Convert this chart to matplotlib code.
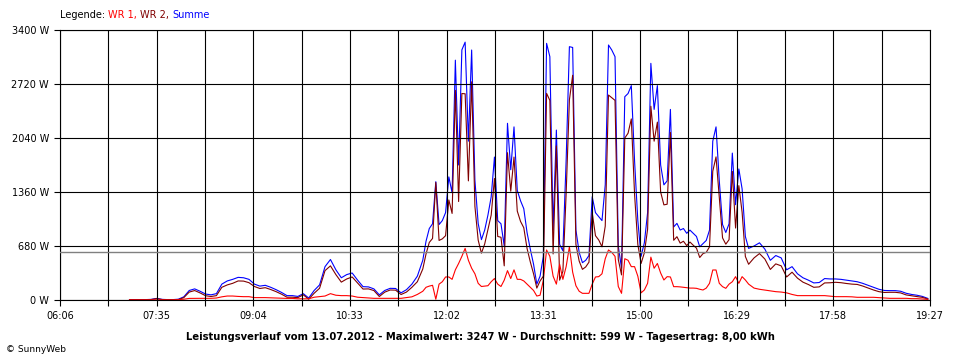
import matplotlib
matplotlib.use('Agg')
import matplotlib.pyplot as plt
import numpy as np
from matplotlib.offsetbox import TextArea, HPacker, AnnotationBbox

plt.rcParams['font.family'] = ['DejaVu Sans']

# sample times, minutes after midnight (5 min morning/evening, 3 min around noon)
times_am = list(range(430, 700, 5))
times_mid = list(range(700, 1001, 3))
times_pm = list(range(1005, 1166, 5))

# Summe (W)
summe_am = [5, 5, 5, 5, 8, 20, 8, 5, 5, 10,
            40, 120, 140, 110, 75, 65, 80, 200, 240, 260,
            285, 280, 260, 200, 175, 185, 160, 130, 95, 55,
            55, 45, 80, 25, 120, 190, 420, 510, 380, 280,
            320, 340, 250, 168, 165, 140, 65, 120, 147, 145,
            90, 130, 200, 300]
summe_mid = [500, 740, 900, 960, 1490, 950, 1000, 1100, 1550, 1350,
             3020, 1700, 3150, 3247, 2000, 3148, 1510, 965, 760, 880,
             1070, 1300, 1800, 1000, 960, 680, 2225, 1640, 2180, 1380,
             1250, 1150, 850, 640, 450, 200, 300, 550, 3232, 3064,
             880, 2140, 700, 620, 1760, 3190, 3180, 880, 600, 470,
             500, 560, 1300, 1100, 1050, 1000, 1450, 3211, 3148, 3064,
             680, 400, 2560, 2600, 2700, 1750, 1000, 550, 720, 1100,
             2980, 2400, 2700, 1700, 1450, 1500, 2400, 920, 965, 881,
             900, 840, 880, 840, 800, 670, 710, 750, 880, 2000,
             2180, 1500, 950, 850, 960, 1850, 1200, 1650, 1400, 800,
             650]
summe_pm = [680, 720, 640, 500, 560, 530, 380, 420, 330, 280,
            250, 215, 220, 270, 265, 265, 260, 250, 240, 230,
            210, 185, 160, 135, 120, 118, 118, 110, 85, 70,
            60, 45, 20]

# WR 1 (W)
wr1_am = [2, 2, 2, 2, 2, 2, 2, 2, 2, 5,
          10, 20, 21, 21, 21, 21, 25, 40, 50, 50,
          45, 42, 42, 30, 30, 30, 28, 25, 22, 20,
          20, 15, 15, 15, 35, 42, 50, 80, 60, 55,
          55, 50, 35, 30, 25, 21, 21, 21, 21, 21,
          21, 30, 40, 70]
wr1_mid = [110, 160, 175, 185, 10, 200, 230, 290, 290, 260,
           380, 460, 550, 650, 500, 400, 330, 210, 170, 175,
           180, 230, 270, 200, 170, 250, 370, 270, 380, 260,
           260, 240, 200, 160, 120, 50, 60, 250, 630, 550,
           300, 200, 450, 260, 420, 670, 350, 180, 110, 84,
           84, 84, 200, 290, 294, 330, 520, 630, 600, 550,
           170, 84, 520, 500, 420, 420, 300, 90, 126, 210,
           540, 400, 460, 340, 252, 294, 290, 168, 168, 165,
           160, 155, 150, 150, 147, 135, 126, 150, 210, 378,
           378, 210, 168, 147, 200, 230, 294, 210, 294, 252,
           200]
wr1_pm = [150, 135, 125, 115, 105, 100, 90, 70, 55, 55,
          55, 55, 55, 55, 48, 42, 42, 42, 40, 34,
          34, 34, 34, 30, 25, 21, 21, 21, 21, 17,
          17, 12, 8]

xtick_labels = ['06:06', '07:35', '09:04', '10:33', '12:02',
                '13:31', '15:00', '16:29', '17:58', '19:27']
ytick_values = [0, 680, 1360, 2040, 2720, 3400]
avg_w = 599
title = ('Leistungsverlauf vom 13.07.2012 - Maximalwert: 3247 W - '
         'Durchschnitt: 599 W - Tagesertrag: 8,00 kWh')

t = np.array(times_am + times_mid + times_pm)
summe = np.array(summe_am + summe_mid + summe_pm)
wr1 = np.array(wr1_am + wr1_mid + wr1_pm)
wr2 = summe - wr1  # WR 2 is the rest of the total

fig = plt.figure(figsize=(9.6, 3.6), dpi=100)
ax = fig.add_axes([60/960, 60/360, 870/960, 270/360])

ax.plot(t, summe, color='#0000FF', lw=0.8)
ax.plot(t, wr2, color='#800000', lw=0.8)
ax.plot(t, wr1, color='#FF0000', lw=0.8)
ax.axhline(avg_w, color='#808080', lw=1.0, zorder=3)

major = [int(s[:2]) * 60 + int(s[3:]) for s in xtick_labels]
minor = [(a + b) / 2 for a, b in zip(major[:-1], major[1:])]
ax.set_xlim(major[0], major[-1])
ax.set_ylim(0, 3400)
ax.set_xticks(major)
ax.set_xticklabels(xtick_labels)
ax.set_xticks(minor, minor=True)
ax.set_yticks(ytick_values)
ax.set_yticklabels([f'{v} W' for v in ytick_values])
ax.tick_params(which='both', direction='out', length=4, width=0.8,
               colors='black', labelsize=7, pad=4)
ax.grid(which='both', color='black', lw=0.8)
ax.set_axisbelow(False)
for sp in ax.spines.values():
    sp.set_linewidth(0.8)

parts = [('Legende: ', 'black'), ('WR 1, ', '#FF0000'),
         ('WR 2, ', '#800000'), ('Summe', '#0000FF')]
boxes = [TextArea(s, textprops=dict(color=c, fontsize=7)) for s, c in parts]
legend = HPacker(children=boxes, align='baseline', pad=0, sep=0)
fig.add_artist(AnnotationBbox(legend, (60/960, 1 - 15/360), xycoords='figure fraction',
                              box_alignment=(0, 0.5), frameon=False))

fig.text(0.5, 1 - 337/360, title, ha='center', va='center',
         fontsize=7.2, fontweight='bold')
fig.text(6/960, 1 - 349/360, '© SunnyWeb', ha='left', va='center', fontsize=6.5)

fig.savefig('out.png', dpi=100, facecolor='white')
